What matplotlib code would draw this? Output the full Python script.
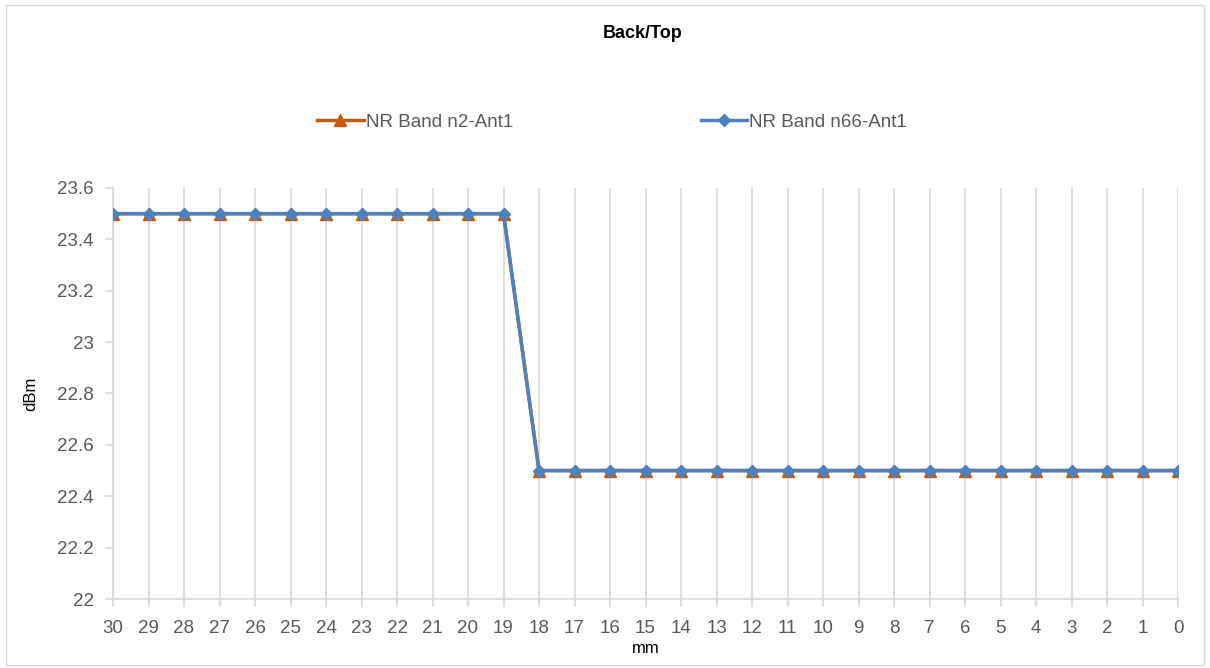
import matplotlib.pyplot as plt
from matplotlib.patches import Rectangle

plt.rcParams['font.family'] = ['Liberation Sans', 'DejaVu Sans']

distances = [30, 29, 28, 27, 26, 25, 24, 23, 22, 21, 20, 19, 18, 17, 16,
             15, 14, 13, 12, 11, 10, 9, 8, 7, 6, 5, 4, 3, 2, 1, 0]
n2_ant1 = [23.5] * 12 + [22.5] * 19
n66_ant1 = [23.5] * 12 + [22.5] * 19
y_ticks = [22, 22.2, 22.4, 22.6, 22.8, 23, 23.2, 23.4, 23.6]
y_labels = ['22', '22.2', '22.4', '22.6', '22.8', '23', '23.2', '23.4', '23.6']

fig = plt.figure(figsize=(12.1, 6.68), dpi=100)
ax = fig.add_axes([113/1210, 1 - 599/668, (1178 - 113)/1210, (599 - 188)/668])

fig.patches.append(Rectangle((6/1210, 3/668), 1198/1210, 660/668,
                             transform=fig.transFigure, fill=False,
                             edgecolor='#d9d9d9', linewidth=1))

x = list(range(len(distances)))
ax.plot(x, n2_ant1, color='#c55a11', linewidth=2.5, marker='^',
        markersize=8, label='NR Band n2-Ant1', zorder=3)
ax.plot(x, n66_ant1, color='#4f81bd', linewidth=2.5, marker='D',
        markersize=6.5, label='NR Band n66-Ant1', zorder=4)

ax.set_xlim(0, len(distances) - 1)
ax.set_ylim(22, 23.6)
ax.set_xticks(x)
ax.set_xticklabels([str(d) for d in distances], fontsize=13.5, color='#595959')
ax.set_yticks(y_ticks)
ax.set_yticklabels(y_labels, fontsize=13.5, color='#595959')
ax.grid(axis='x', color='#d9d9d9', linewidth=1.2)
ax.set_axisbelow(True)
for s in ['top', 'right']:
    ax.spines[s].set_visible(False)
ax.spines['left'].set_color('#d9d9d9')
ax.spines['bottom'].set_color('#d9d9d9')
ax.spines['left'].set_linewidth(1.2)
ax.spines['bottom'].set_linewidth(1.2)
ax.tick_params(axis='both', color='#d9d9d9', length=6, width=1.2)
ax.tick_params(axis='x', pad=9)
ax.tick_params(axis='y', pad=8)

ax.set_xlabel('mm', fontsize=12, labelpad=3)
ax.set_ylabel('dBm', fontsize=12)
ax.yaxis.set_label_coords(-0.07, 0.5)

fig.text(643/1210, 1 - 33/668, 'Back/Top', ha='center', va='center',
         fontsize=13, fontweight='bold')

fig.legend(loc='center', bbox_to_anchor=(612/1210, 1 - 122/668), ncol=2,
           frameon=False, fontsize=13.5, columnspacing=10, handlelength=2.5,
           handletextpad=0.1, labelcolor='#595959')

fig.savefig('out.png', dpi=100)
